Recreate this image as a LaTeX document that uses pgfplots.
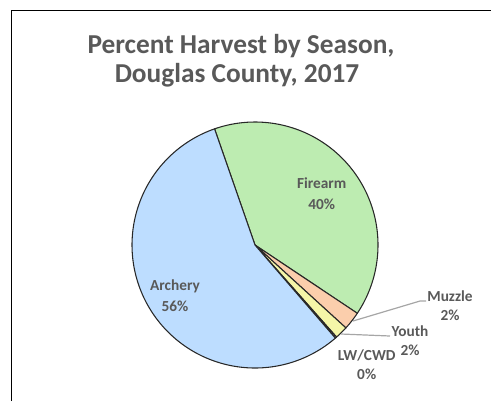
\documentclass[border=0pt]{standalone}
\usepackage{pgfplots}
\pgfplotsset{compat=1.18}
\usepackage{fontspec}
\setmainfont{Carlito}
\definecolor{archc}{RGB}{189,221,255}
\definecolor{firec}{RGB}{189,236,177}
\definecolor{muzzc}{RGB}{251,206,172}
\definecolor{youthc}{RGB}{245,246,168}
\definecolor{lwc}{RGB}{210,190,235}
\definecolor{edgec}{RGB}{40,40,40}
\definecolor{txt}{RGB}{89,89,89}
\definecolor{lead}{RGB}{166,166,166}
% slice values (percent)
\def\vFire{39.7}
\def\vMuzz{2.4}
\def\vYouth{1.7}
\def\vLW{0.2}
\def\vArch{56.0}
\begin{document}
\begin{tikzpicture}[x=0.75pt,y=0.75pt]
\pgfmathsetmacro\aA{109.2}
\pgfmathsetmacro\aB{\aA-3.6*\vFire}
\pgfmathsetmacro\aC{\aB-3.6*\vMuzz}
\pgfmathsetmacro\aD{\aC-3.6*\vYouth}
\pgfmathsetmacro\aE{\aD-3.6*\vLW}
\pgfmathsetmacro\aF{\aE-3.6*\vArch}
\def\cx{255}\def\cy{245}\def\R{123}
\path[use as bounding box] (0,0) rectangle (491,401);
\begin{axis}[
  at={(0,0)}, anchor=south west,
  scale only axis, width=368.25pt, height=300.75pt,
  xmin=0, xmax=491, ymin=0, ymax=401, y dir=reverse,
  hide axis, clip=false,
  every axis plot/.append style={line join=round},
]
\addplot[fill=firec, draw=edgec, line width=0.8pt, domain=\aB:\aA, samples=100]
  ({\cx+\R*cos(x)},{\cy-\R*sin(x)}) -- (axis cs:\cx,\cy) -- cycle;
\addplot[fill=muzzc, draw=edgec, line width=0.8pt, domain=\aC:\aB, samples=10]
  ({\cx+\R*cos(x)},{\cy-\R*sin(x)}) -- (axis cs:\cx,\cy) -- cycle;
\addplot[fill=youthc, draw=edgec, line width=0.8pt, domain=\aD:\aC, samples=10]
  ({\cx+\R*cos(x)},{\cy-\R*sin(x)}) -- (axis cs:\cx,\cy) -- cycle;
\addplot[fill=lwc, draw=edgec, line width=0.8pt, domain=\aE:\aD, samples=3]
  ({\cx+\R*cos(x)},{\cy-\R*sin(x)}) -- (axis cs:\cx,\cy) -- cycle;
\addplot[fill=archc, draw=edgec, line width=0.8pt, domain=\aF:\aE, samples=140]
  ({\cx+\R*cos(x)},{\cy-\R*sin(x)}) -- (axis cs:\cx,\cy) -- cycle;
% leader lines
\addplot[lead, line width=0.9pt, mark=none] coordinates {(353,321) (420,301) (426,301)};
\addplot[lead, line width=0.9pt, mark=none] coordinates {(341,334) (390,336)};
% border
\draw[black, line width=1.2pt] (axis cs:11.5,401) -- (axis cs:11.5,10.5) -- (axis cs:491,10.5);
% title
\node[txt, font=\fontsize{20.5}{24}\selectfont\bfseries, anchor=base] at (axis cs:241,53) {Percent Harvest by Season,};
\node[txt, font=\fontsize{20.5}{24}\selectfont\bfseries, anchor=base] at (axis cs:237,82) {Douglas County, 2017};
% labels
\tikzset{lab/.style={txt, font=\fontsize{11.5}{14}\selectfont\bfseries, anchor=center}}
\node[lab] at (axis cs:321.7,183.3) {Firearm};
\node[lab] at (axis cs:321.7,204) {40\%};
\node[lab] at (axis cs:175,286.7) {Archery};
\node[lab] at (axis cs:175,306.7) {56\%};
\node[lab] at (axis cs:450,296) {Muzzle};
\node[lab] at (axis cs:450,315) {2\%};
\node[lab] at (axis cs:410,331) {Youth};
\node[lab] at (axis cs:410,350) {2\%};
\node[lab] at (axis cs:366.7,355) {LW/CWD};
\node[lab] at (axis cs:366.7,374.3) {0\%};
\end{axis}
\end{tikzpicture}
\end{document}
